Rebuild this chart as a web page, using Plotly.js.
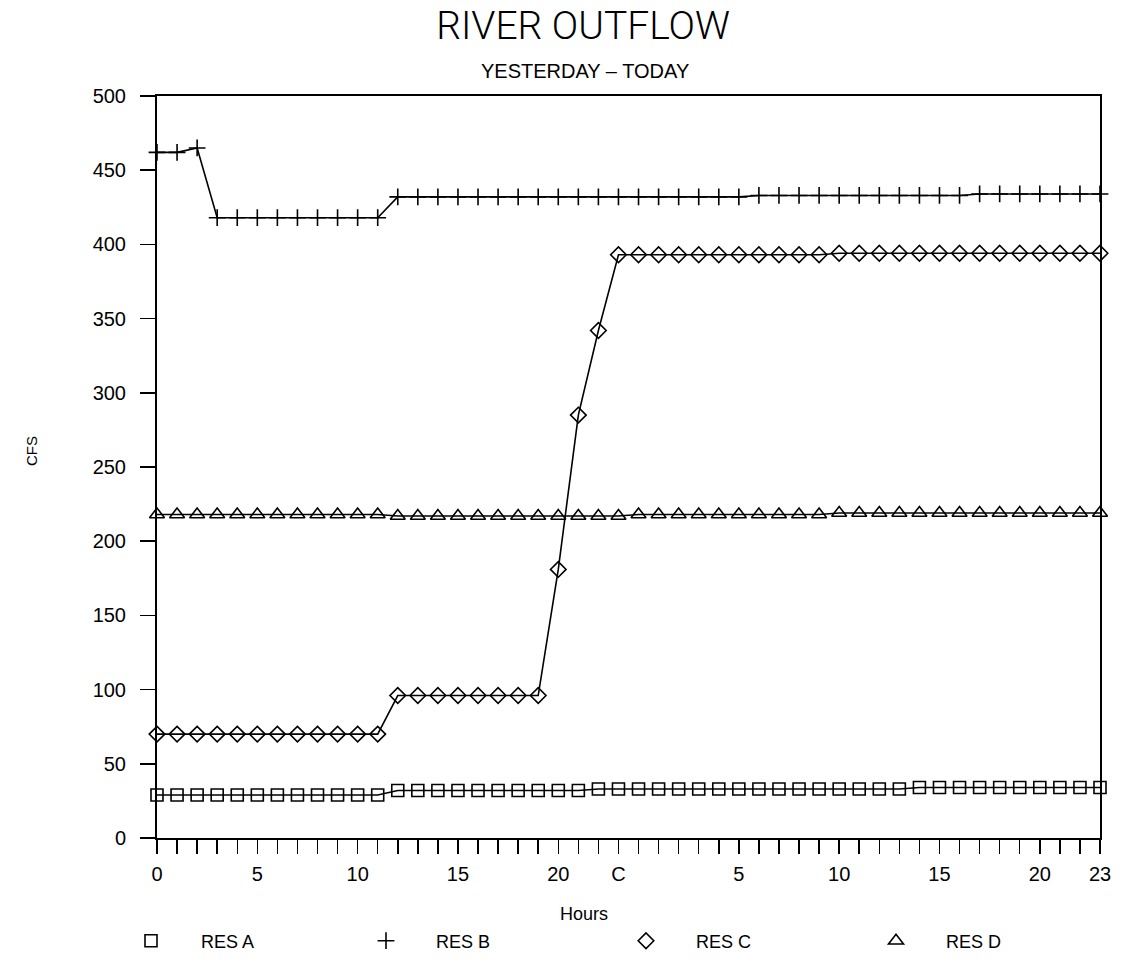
<!DOCTYPE html>
<html>
<head>
<meta charset="utf-8">
<script src="https://cdn.plot.ly/plotly-3.0.1.min.js"></script>
<style>
  html, body { margin: 0; padding: 0; background: #fff; }
  #chart { width: 1125px; height: 964px; }
</style>
</head>
<body>
<div id="chart"></div>
<script>
// Hour index: 0-23 = yesterday, 24-47 = today
const hours = Array.from({length: 48}, (_, i) => i);

const resA = [29,29,29,29,29,29,29,29,29,29,29,29,
              32,32,32,32,32,32,32,32,32,32,33,33,
              33,33,33,33,33,33,33,33,33,33,33,33,
              33,33,34,34,34,34,34,34,34,34,34,34];
const resB = [462,462,465,418,418,418,418,418,418,418,418,418,
              432,432,432,432,432,432,432,432,432,432,432,432,
              432,432,432,432,432,432,433,433,433,433,433,433,
              433,433,433,433,433,434,434,434,434,434,434,434];
const resC = [70,70,70,70,70,70,70,70,70,70,70,70,
              96,96,96,96,96,96,96,96,181,285,342,393,
              393,393,393,393,393,393,393,393,393,393,394,394,
              394,394,394,394,394,394,394,394,394,394,394,394];
const resD = [218,218,218,218,218,218,218,218,218,218,218,218,
              217,217,217,217,217,217,217,217,217,217,217,217,
              218,218,218,218,218,218,218,218,218,218,219,219,
              219,219,219,219,219,219,219,219,219,219,219,219];

const seriesNames = ['RES A', 'RES B', 'RES C', 'RES D'];
const seriesValues = [resA, resB, resC, resD];
const seriesSymbols = ['square-open', 'cross-thin-open', 'diamond-open', 'triangle-up-open'];
const seriesSizes = [12, 12, 12, 13];

const xTickVals = [0, 5, 10, 15, 20, 23, 29, 34, 39, 44, 47];
const xTickText = ['0', '5', '10', '15', '20', 'C', '5', '10', '15', '20', '23'];
const yTickVals = [0, 50, 100, 150, 200, 250, 300, 350, 400, 450, 500];

// legend symbol centres (px, container) for each series
const legendPos = [153, 388, 648, 898];

const FONT = 'Liberation Sans, Arial, sans-serif';
const traces = [];
seriesValues.forEach((vals, k) => {
  traces.push({
    x: hours, y: vals, type: 'scatter', mode: 'lines',
    line: {color: '#000', width: 1.6},
    showlegend: false, hoverinfo: 'skip', cliponaxis: false
  });
});
seriesValues.forEach((vals, k) => {
  traces.push({
    x: hours, y: vals, type: 'scatter', mode: 'markers',
    name: seriesNames[k],
    marker: {symbol: seriesSymbols[k], size: seriesSizes[k], color: '#000',
             line: {color: '#000', width: 1.6}},
    cliponaxis: false,
    legend: k === 0 ? 'legend' : 'legend' + (k + 1)
  });
});

const ITEMW = 90;
function legendDef(k) {
  return {
    xref: 'container', yref: 'container',
    x: (legendPos[k] - (ITEMW + 10) / 2 - 2) / 1125, xanchor: 'left',
    y: 1 - 941 / 964, yanchor: 'middle',
    orientation: 'h', itemwidth: ITEMW,
    font: {family: FONT, size: 18, color: '#000'},
    bgcolor: 'rgba(0,0,0,0)', borderwidth: 0
  };
}

const layout = {
  width: 1125, height: 964,
  paper_bgcolor: '#fff', plot_bgcolor: '#fff',
  margin: {l: 157, r: 25, t: 96, b: 126},
  title: {
    text: 'RIVER OUTFLOW',
    font: {family: 'Roboto, Liberation Sans, sans-serif', size: 39, weight: 300, color: '#000'},
    xref: 'container', x: 583 / 1125, xanchor: 'center',
    yref: 'container', y: 1 - 25 / 964, yanchor: 'middle'
  },
  xaxis: {
    range: [0, 47], autorange: false,
    tickmode: 'array', tickvals: xTickVals, ticktext: xTickText,
    ticks: 'outside', ticklen: 14, tickwidth: 1.5, tickcolor: '#000',
    minor: {dtick: 1, tick0: 0, ticks: 'outside', ticklen: 14, tickwidth: 1.5, tickcolor: '#000'},
    showline: true, linewidth: 2, linecolor: '#000', mirror: true,
    showgrid: false, zeroline: false,
    tickfont: {family: FONT, size: 20, color: '#000'},
    ticklabelstandoff: 3
  },
  yaxis: {
    range: [0, 500], autorange: false,
    tickmode: 'array', tickvals: yTickVals,
    ticks: 'outside', ticklen: 15, tickwidth: 1.5, tickcolor: '#000',
    showline: true, linewidth: 2, linecolor: '#000', mirror: true,
    showgrid: false, zeroline: false,
    tickfont: {family: FONT, size: 20, color: '#000'},
    ticklabelstandoff: 10
  },
  legend: legendDef(0),
  legend2: legendDef(1),
  legend3: legendDef(2),
  legend4: legendDef(3),
  annotations: [
    {text: 'YESTERDAY \u2013 TODAY', xref: 'paper', yref: 'paper', showarrow: false,
     x: (585 - 157) / 943, y: 1 + (96 - 71) / 742, xanchor: 'center', yanchor: 'middle',
     font: {family: FONT, size: 20, color: '#000'}},
    {text: 'Hours', xref: 'paper', yref: 'paper', showarrow: false,
     x: (584 - 157) / 943, y: -(914 - 838) / 742, xanchor: 'center', yanchor: 'middle',
     font: {family: FONT, size: 18, color: '#000'}},
    {text: 'CFS', xref: 'paper', yref: 'paper', showarrow: false, textangle: -90,
     x: (32 - 157) / 943, y: (838 - 451) / 742, xanchor: 'center', yanchor: 'middle',
     font: {family: FONT, size: 15, color: '#000'}}
  ],
  showlegend: true
};

Plotly.newPlot('chart', traces, layout, {displayModeBar: false, staticPlot: true});
</script>
</body>
</html>
